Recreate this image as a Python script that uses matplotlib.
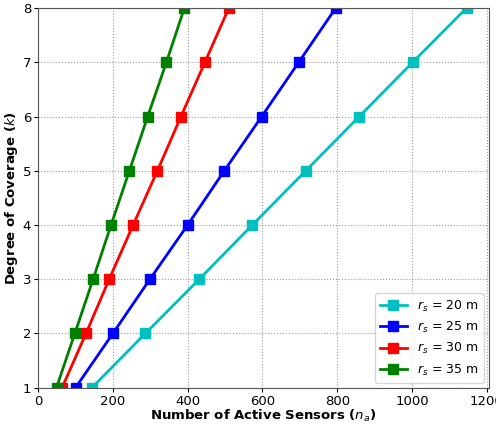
import numpy as np
import matplotlib.pyplot as plt

k = [1, 2, 3, 4, 5, 6, 7, 8]
n_20 = [144, 287, 431, 573, 716, 859, 1002, 1146]
n_25 = [100, 200, 299, 400, 498, 598, 697, 796]
n_30 = [64, 128, 190, 254, 319, 382, 446, 510]
n_35 = [49, 98, 147, 195, 244, 293, 343, 391]
labels = ['$r_s$ = 20 m', '$r_s$ = 25 m', '$r_s$ = 30 m', '$r_s$ = 35 m']
colors = ['c', 'b', 'r', 'g']

fig = plt.figure(figsize=(4.96, 4.25), dpi=100)
ax = fig.add_axes([0.077, 0.088, 0.908, 0.893])

for x, lab, c in zip([n_20, n_25, n_30, n_35], labels, colors):
    ax.plot(x, k, color=c, marker='s', markersize=7.5, linewidth=2, label=lab)

ax.set_xlim(0, 1205)
ax.set_ylim(1, 8)
ax.set_xticks([0, 200, 400, 600, 800, 1000, 1200])
ax.set_yticks(k)
ax.tick_params(labelsize=9.5, pad=2, length=3)
ax.set_xlabel('Number of Active Sensors ($n_a$)', fontsize=9.5, fontweight='bold', labelpad=0)
ax.set_ylabel('Degree of Coverage ($k$)', fontsize=9.5, fontweight='bold', labelpad=2)
ax.grid(True, linestyle=':', color='gray', alpha=0.8)
for s in ax.spines.values():
    s.set_color('#555555')
ax.legend(loc='lower right', fontsize=9, handlelength=2.2, borderaxespad=0.4)

fig.savefig('out.png')
